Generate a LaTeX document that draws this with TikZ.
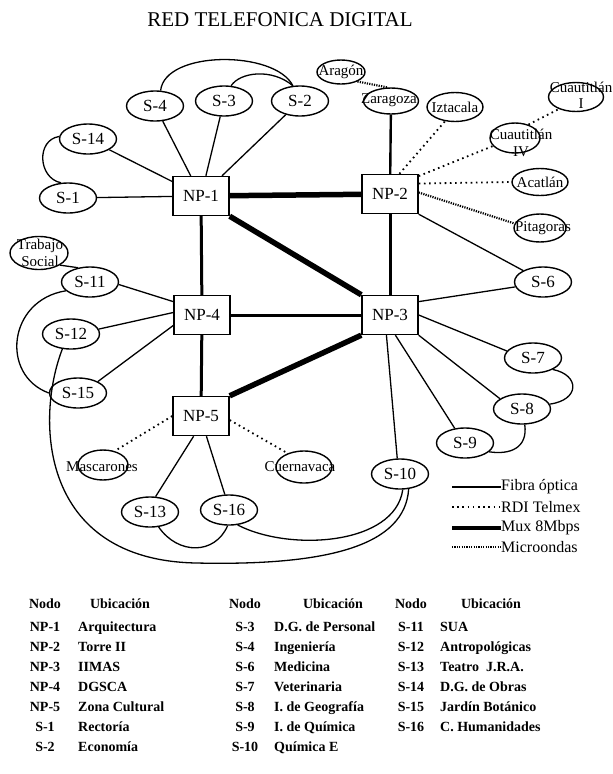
\documentclass[tikz,border=0pt]{standalone}
\usepackage{fontspec}
\setmainfont{Liberation Serif}
\usetikzlibrary{shapes.geometric}

\begin{document}
\begin{tikzpicture}[x=1pt,y=-1pt,
  fibra/.style={line width=1.3pt},
  troncal/.style={line width=3pt},
  mux/.style={line width=5.5pt},
  rdi/.style={line width=1.8pt, dash pattern=on 1.6pt off 3.6pt},
  micro/.style={line width=2.2pt, dash pattern=on 1.2pt off 1.2pt},
  npbox/.style={draw, line width=1.4pt, minimum width=56pt, minimum height=39pt,
    inner sep=0pt, fill=white, font=\fontsize{17}{17}\selectfont},
  sell/.style={draw, ellipse, line width=1.4pt, minimum width=57pt, minimum height=30pt,
    inner sep=0pt, font=\fontsize{17}{17}\selectfont},
  lell/.style={draw, ellipse, line width=1.4pt, inner sep=0pt},
  ltxt/.style={inner sep=0pt, align=center, font=\fontsize{15}{16}\selectfont},
  legtxt/.style={anchor=west, inner sep=0pt, font=\fontsize{16}{16}\selectfont},
  tabh/.style={anchor=base, inner sep=0pt, font=\bfseries\fontsize{14}{14}\selectfont},
  tabn/.style={anchor=base, inner sep=0pt, font=\bfseries\fontsize{14}{14}\selectfont},
  tabu/.style={anchor=base west, inner sep=0pt, font=\bfseries\fontsize{14}{14}\selectfont}
]
\useasboundingbox[fill=white] (0,0) rectangle (613,774);

% title
\node[inner sep=0pt, font=\fontsize{21}{21}\selectfont] (title) at (280,20) {RED TELEFONICA DIGITAL};

% main nodes
\node[npbox] (np1) at (201,196) {NP-1};
\node[npbox] (np2) at (390,194) {NP-2};
\node[npbox] (np3) at (390,315) {NP-3};
\node[npbox] (np4) at (202,315) {NP-4};
\node[npbox] (np5) at (201,416) {NP-5};

% secondary nodes
\node[sell] (s4)  at (155,106) {S-4};
\node[sell] (s3)  at (224,101) {S-3};
\node[sell] (s2)  at (300,101) {S-2};
\node[sell] (s14) at (88,139)  {S-14};
\node[sell] (s1)  at (68,198)  {S-1};
\node[sell] (s11) at (90,282)  {S-11};
\node[sell] (s12) at (71,334)  {S-12};
\node[sell] (s15) at (78,393)  {S-15};
\node[sell] (s13) at (150,512) {S-13};
\node[sell] (s16) at (229,510) {S-16};
\node[sell] (s10) at (400,474) {S-10};
\node[sell] (s9)  at (465,443) {S-9};
\node[sell] (s8)  at (522,409) {S-8};
\node[sell] (s7)  at (533,358) {S-7};
\node[sell] (s6)  at (543,282) {S-6};

% remote sites
\node[lell, minimum width=48pt, minimum height=24pt] (arag) at (341,72) {};
\node[ltxt] (arag-t) at (arag) {Aragón};
\node[lell, minimum width=55pt, minimum height=26pt] (zar) at (391,101) {};
\node[ltxt] (zar-t) at (389,100) {Zaragoza};
\node[lell, minimum width=56pt, minimum height=29pt] (izt) at (455,107) {};
\node[ltxt] (izt-t) at (izt) {Iztacala};
\node[lell, minimum width=55pt, minimum height=29pt] (ci) at (576,97) {};
\node[ltxt] (ci-t) at (581,95) {Cuautitlán\\I};
\node[lell, minimum width=50pt, minimum height=30pt] (civ) at (515,138) {};
\node[ltxt, font=\fontsize{15}{17}\selectfont] (civ-t) at (521,143) {Cuautitlán\\IV};
\node[lell, minimum width=56pt, minimum height=27pt] (acat) at (540,182) {};
\node[ltxt] (acat-t) at (acat) {Acatlán};
\node[lell, minimum width=52pt, minimum height=28pt] (pit) at (540,228) {};
\node[ltxt] (pit-t) at (543,228) {Pitagoras};
\node[lell, minimum width=58pt, minimum height=33pt] (ts) at (39,253) {};
\node[ltxt, font=\fontsize{15}{17}\selectfont] (ts-t) at (40,253) {Trabajo\\Social};
\node[lell, minimum width=50pt, minimum height=30pt] (masc) at (103,465) {};
\node[ltxt] (masc-t) at (102,467) {Mascarones};
\node[lell, minimum width=56pt, minimum height=32pt] (cuer) at (304,467) {};
\node[ltxt] (cuer-t) at (300,467) {Cuernavaca};

% fibre optic links
\draw[fibra] (s1) -- (np1);
\draw[fibra] (s14) -- (np1);
\draw[fibra] (s4) -- (np1);
\draw[fibra] (s3) -- (np1);
\draw[fibra] (s2) -- (np1);
\draw[fibra] (np2.south east) -- (s6.150);
\draw[fibra] (np3.25) -- (s6.190);
\draw[fibra] (np3.east) -- (s7.165);
\draw[fibra] (np3.south east) -- (s8.155);
\draw[fibra] (np3.-75) -- (s9.125);
\draw[fibra] (np3.-100) -- (s10.100);
\draw[fibra] (s11.-5) -- (np4.155);
\draw[fibra] (s12.10) -- (np4.175);
\draw[fibra] (s15.30) -- (np4.-160);
\draw[fibra] (np5.-110) -- (s13.70);
\draw[fibra] (np5.-75) -- (s16.105);
\draw[fibra] (ts.-30) -- (s11.130);

% fibre optic loops
\draw[fibra] (s4.70) .. controls (165,50) and (275,50) .. (s2.115);
\draw[fibra] (s3.65) .. controls (240,72) and (272,68) .. (s2.115);
\draw[fibra] (s14.175) .. controls (36,140) and (38,178) .. (s1.115);
\draw[fibra] (s11.200) .. controls (8,300) and (0,375) .. (s15.180);
\draw[fibra] (s12.240) .. controls (35,420) and (40,560) .. (196,563)
                      .. controls (330,566) and (405,545) .. (s10.-60);
\draw[fibra] (s16.-60) .. controls (290,552) and (395,545) .. (s10.-80);
\draw[fibra] (s13.-60) .. controls (178,555) and (215,555) .. (s16.-95);
\draw[fibra] (s7.-30) .. controls (580,375) and (580,400) .. (s8.10);
\draw[fibra] (s8.-80) .. controls (528,448) and (510,455) .. (s9.-20);

% backbone links
\draw[troncal] (np1) -- (np4);
\draw[troncal] (np4) -- (np3);
\draw[troncal] (np2) -- (np3);
\draw[troncal] (np4) -- (np5);
\draw[line width=2.4pt] (np2) -- (zar);

% 8 Mbps multiplexed links
\draw[mux] (np1) -- (np2);
\draw[mux] (np1.south east) -- (np3.north west);
\draw[mux] (np3.south west) -- (np5.north east);

% RDI and microwave links
\draw[micro] (arag.-30) -- (zar.105);
\draw[rdi] (np2.65) -- (izt.235);
\draw[rdi] (np2.32) -- (civ.200);
\draw[rdi] (civ.45) -- (ci.215);
\draw[rdi] (np2.20) -- (acat.west);
\draw[micro] (np2.3) -- (pit.170);
\draw[rdi] (np5.west) -- (masc.50);
\draw[rdi] (np5.-8) -- (cuer.140);

% legend
\node[legtxt] (lg1) at (501,487) {Fibra óptica};
\node[legtxt] (lg2) at (501,507) {RDI Telmex};
\node[legtxt] (lg3) at (501,528) {Mux 8Mbps};
\node[legtxt] (lg4) at (501,547) {Microondas};
\coordinate (lg1a) at (452,487);
\coordinate (lg2a) at (452,507);
\coordinate (lg3a) at (452,528);
\coordinate (lg4a) at (452,547);
\draw[fibra] (lg1a) -- (lg1.west);
\draw[rdi] (lg2a) -- (lg2.west);
\draw[line width=4.5pt] (lg3a) -- (lg3.west);
\draw[micro] (lg4a) -- (lg4.west);

% location table
\node[tabh] (h1n) at (45,608)  {Nodo};
\node[tabh] (h1u) at (120,608) {Ubicación};
\node[tabh] (h2n) at (245,608) {Nodo};
\node[tabh] (h2u) at (333,608) {Ubicación};
\node[tabh] (h3n) at (411,608) {Nodo};
\node[tabh] (h3u) at (491,608) {Ubicación};
\foreach \n/\u [count=\i] in {NP-1/Arquitectura, NP-2/Torre II, NP-3/IIMAS,
    NP-4/DGSCA, NP-5/Zona Cultural, S-1/Rectoría, S-2/Economía} {
  \node[tabn] (c1n\i) at (45,611+20*\i) {\n};
  \node[tabu] (c1u\i) at (78,611+20*\i) {\u};
}
\foreach \n/\u [count=\i] in {S-3/D.G. de Personal, S-4/Ingeniería, S-6/Medicina,
    S-7/Veterinaria, S-8/I. de Geografía, S-9/I. de Química, S-10/Química E} {
  \node[tabn] (c2n\i) at (245,611+20*\i) {\n};
  \node[tabu] (c2u\i) at (274,611+20*\i) {\u};
}
\foreach \n/\u [count=\i] in {S-11/SUA, S-12/Antropológicas, S-13/Teatro\ \ J.R.A.,
    S-14/D.G. de Obras, S-15/Jardín Botánico, S-16/C. Humanidades} {
  \node[tabn] (c3n\i) at (411,611+20*\i) {\n};
  \node[tabu] (c3u\i) at (440,611+20*\i) {\u};
}
\end{tikzpicture}
\end{document}
